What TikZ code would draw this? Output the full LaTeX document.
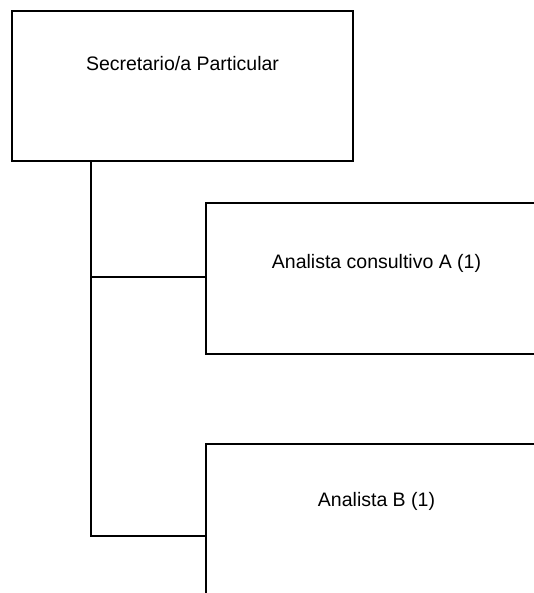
\documentclass[tikz,border=0pt]{standalone}
\usepackage{fontspec}
\setmainfont{Liberation Sans}
\usetikzlibrary{positioning}
\begin{document}
\begin{tikzpicture}[x=1pt, y=-1pt,
    orgbox/.style={rectangle, draw, line width=1.5pt, minimum width=341pt, inner sep=0pt},
    orgtext/.style={inner sep=0pt, font=\fontsize{19.5}{23}\selectfont},
    link/.style={line width=1.4pt}]
        \useasboundingbox (0,0) rectangle (534,593);
        \clip (0,0) rectangle (534,593);

        \node[orgbox, minimum height=150pt] (sec) at (182.5,86) {};
        \node[orgbox, minimum height=151pt] (anaA) at (376.5,278.5) {};
        \node[orgbox, minimum height=151pt] (anaB) at (376.5,519.5) {};

        \node[orgtext] (secT) at ([yshift=-53pt]sec.north) {Secretario/a Particular};
        \node[orgtext] (anaAT) at ([yshift=-61pt]anaA.north) {Analista consultivo A (1)};
        \node[orgtext] (anaBT) at ([yshift=-58pt]anaB.north) {Analista B (1)};

        \coordinate (tA) at (91,277);
        \coordinate (tB) at (91,536);

        \draw[link] (sec.south -| tA) -- (tB) -- (anaB.west |- tB);
        \draw[link] (tA) -- (anaA.west |- tA);
\end{tikzpicture}
\end{document}
